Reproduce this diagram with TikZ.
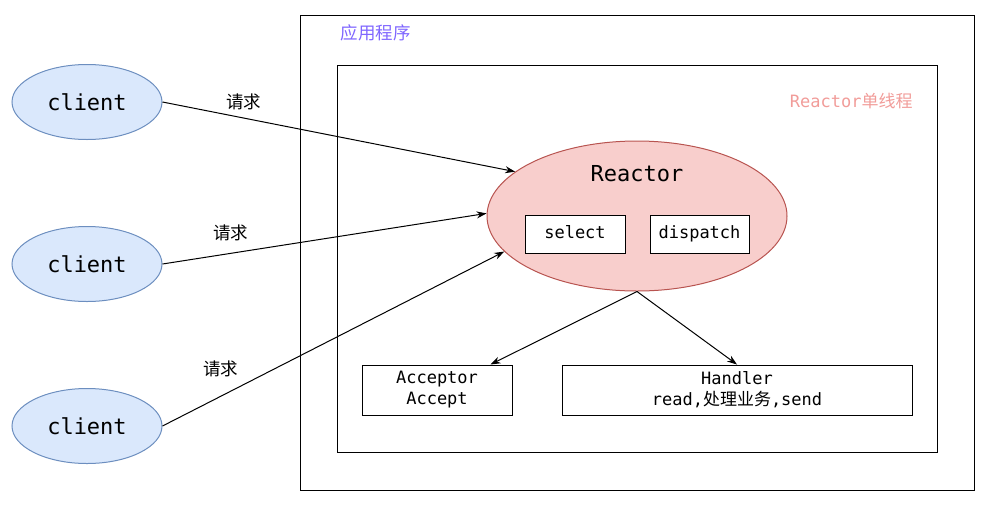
\documentclass[tikz,border=0pt]{standalone}
\usepackage{fontspec}
\setmonofont{DejaVu Sans Mono}
\newfontfamily\cjk{Noto Sans CJK SC}
\usetikzlibrary{shapes.geometric, positioning, arrows.meta}

\definecolor{clientfill}{HTML}{DAE8FC}
\definecolor{clientline}{HTML}{6C8EBF}
\definecolor{reactfill}{HTML}{F8CECC}
\definecolor{reactline}{HTML}{B85450}
\definecolor{apptext}{HTML}{7F66FF}
\definecolor{threadtext}{HTML}{F19C99}

\begin{document}
\begin{tikzpicture}[x=1pt, y=-1pt, node distance=162pt, on grid, line width=1pt,
    client/.style={ellipse, draw=clientline, fill=clientfill, minimum width=150pt,
        minimum height=75pt, inner sep=0pt, font=\ttfamily\fontsize{22}{26}\selectfont},
    frame/.style={draw, inner sep=0pt},
    box/.style={draw, fill=white, inner sep=0pt, align=center,
        font=\ttfamily\fontsize{17}{21}\selectfont},
    tag/.style={box, minimum height=38pt, text height=12.5pt, text depth=4pt},
    lbl/.style={inner sep=0pt, font=\cjk\fontsize{17.5}{20}\selectfont},
    >={Stealth[length=10pt, width=7pt]}]
    \useasboundingbox (0,0) rectangle (987,504);

    % frames
    \node[frame, minimum width=674pt, minimum height=475pt] (app) at (637,252.5) {};
    \node[frame, minimum width=600pt, minimum height=387pt] (single) at (637,258.5) {};
    \node[lbl, text=apptext, anchor=west] (apptitle) at (340,33) {应用程序};
    \node[inner sep=0pt, anchor=east, text=threadtext,
        font=\ttfamily\fontsize{17}{20}\selectfont] (threadtitle) at (913,101)
        {Reactor{\cjk 单线程}};

    % clients
    \node[client] (c1) at (87,102) {client};
    \node[client] (c2) [below=of c1] {client};
    \node[client] (c3) [below=of c2] {client};

    % reactor
    \node[ellipse, draw=reactline, fill=reactfill, minimum width=300pt,
        minimum height=150pt, inner sep=0pt] (reactor) at (637,216) {};
    \node[inner sep=0pt, font=\ttfamily\fontsize{22}{26}\selectfont] (rname) at (637,174) {Reactor};
    \node[tag, minimum width=100pt] (sel) at (575,234) {select};
    \node[tag, minimum width=99pt] (disp) at (699.5,234) {dispatch};

    % handlers
    \node[box, minimum width=150pt, minimum height=50pt] (acc) at (437,390) {Acceptor\\Accept};
    \node[box, minimum width=350pt, minimum height=50pt] (hdl) at (737,390)
        {Handler\\read,{\cjk 处理业务},send};

    \path[->]
    (c1.east) edge node[lbl, pos=0.23, above=8pt] {请求} (reactor.160)
    (c2.east) edge node[lbl, pos=0.21, above=12pt] {请求} (reactor.179)
    (c3.east) edge node[lbl, pos=0.17, above=19pt] {请求} (reactor.195)
    (reactor.south) edge ([xshift=-22pt]acc.north east)
    (reactor.south) edge (hdl.north);
\end{tikzpicture}
\end{document}
